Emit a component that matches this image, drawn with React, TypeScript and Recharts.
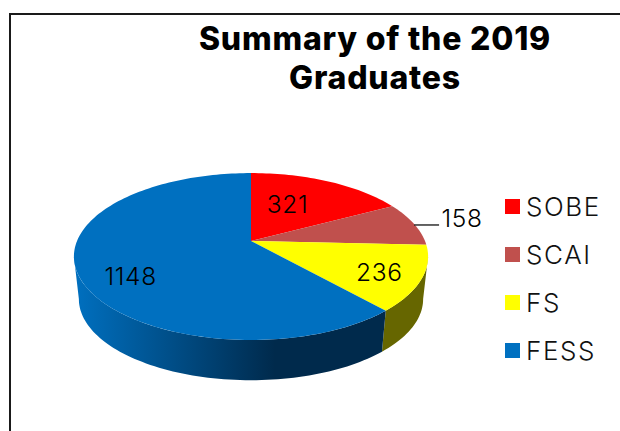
import React from "react";
import { PieChart, Pie, Legend } from "recharts";

const categories = ["SOBE", "SCAI", "FS", "FESS"];
const graduates = [321, 158, 236, 1148];
const topColors = ["#ff0000", "#c0504d", "#ffff00", "#0070c0"];
const wallColors = ["#800000", "#602826", "#666600", "url(#fessWall)"];
const titleLines = ["Summary of the 2019", "Graduates"];

const labelFractions = [0.5, 1, 0.8, 0.7];
const labelShiftX = [-5, 48, -6, -1];
const labelShiftY = [-5, -6, 2, 14];

const FONT = "Inter, 'Noto Sans', sans-serif";
const WIDTH = 620;
const HEIGHT = 431;
const CX = 251;
const CY = 241;
const RADIUS = 174;
const TILT = 0.463;
const PERSPECTIVE = 0.186;
const WALL_DROP = 43;
const WALL_SCALE = 0.972;
const RIGHT_EDGE_ANGLE = -10.7;
const LEFT_EDGE_ANGLE = -169.3;

const topRows = categories.map((name, i) => ({ name, value: graduates[i], fill: topColors[i] }));
const wallRows = categories.map((name, i) => ({ name, value: graduates[i], fill: wallColors[i] }));

function project(cx: number, cy: number, r: number, angle: number, f = 1, drop = 0, scale = 1) {
  const rad = (angle * Math.PI) / 180;
  const X = f * Math.cos(rad);
  const Y = f * Math.sin(rad);
  const w = 1 + PERSPECTIVE * Y;
  return {
    x: cx + (scale * r * X) / w,
    y: cy + drop - (scale * r * TILT * Y) / w,
  };
}

function arcPoints(p: any, from: number, to: number, drop = 0, scale = 1) {
  const pts: { x: number; y: number }[] = [];
  const steps = Math.max(2, Math.ceil(Math.abs(to - from) / 1.5));
  for (let i = 0; i <= steps; i++) {
    const a = from + ((to - from) * i) / steps;
    pts.push(project(p.cx, p.cy, p.outerRadius, a, 1, drop, scale));
  }
  return pts;
}

const toPath = (pts: { x: number; y: number }[]) =>
  pts.map((q, i) => `${i ? "L" : "M"}${q.x.toFixed(2)} ${q.y.toFixed(2)}`).join("") + "Z";

function TopSlice(p: any) {
  const d = toPath([{ x: p.cx, y: p.cy }, ...arcPoints(p, p.startAngle, p.endAngle)]);
  return <path d={d} fill={p.fill} stroke="none" />;
}

function WallSlice(p: any) {
  const from = Math.min(p.startAngle, RIGHT_EDGE_ANGLE);
  const to = Math.max(p.endAngle, LEFT_EDGE_ANGLE);
  if (from <= to) return <g />;
  const upper = arcPoints(p, from, to);
  const lower = arcPoints(p, from, to, WALL_DROP, WALL_SCALE).reverse();
  return <path d={toPath([...upper, ...lower])} fill={p.fill} stroke="none" />;
}

function SliceLabel(p: any) {
  const i = p.index;
  const m = project(p.cx, p.cy, p.outerRadius, p.midAngle, labelFractions[i]);
  const tx = m.x + labelShiftX[i];
  const ty = m.y + labelShiftY[i];
  return (
    <g>
      {i === 1 && <line x1={m.x} y1={m.y + 1} x2={m.x + 25} y2={m.y + 1} stroke="#111" strokeWidth={1.3} />}
      <text x={tx} y={ty} textAnchor="middle" dominantBaseline="central" fontFamily={FONT} fontSize={24.5} fontWeight={300} letterSpacing={0.7} fill="#000">
        {p.value}
      </text>
    </g>
  );
}

function LegendBox({ payload }: any) {
  const entries = categories.map((name, i) =>
    (payload || []).find((e: any) => e.value === name && e.color === topColors[i])
  ).filter(Boolean);
  return (
    <div>
      {entries.map((e: any) => (
        <div key={e.value} style={{ height: 48, display: "flex", alignItems: "center" }}>
          <span style={{ width: 15, height: 15, background: e.color, marginRight: 6, display: "block" }} />
          <span style={{ fontFamily: FONT, fontSize: 26, fontWeight: 300, letterSpacing: 1.6, color: "#111" }}>{e.value}</span>
        </div>
      ))}
    </div>
  );
}

export default function App() {
  return (
    <div style={{ position: "fixed", left: 0, top: 0, width: WIDTH, height: HEIGHT, overflow: "hidden", background: "#fff" }}>
      <div style={{ position: "absolute", left: 9, top: 13, right: -5, bottom: -5, borderLeft: "2px solid #1a1a1a", borderTop: "2px solid #1a1a1a" }} />
      <PieChart width={WIDTH} height={HEIGHT} margin={{ top: 0, right: 0, bottom: 0, left: 0 }} style={{ position: "absolute", left: 0, top: 0 }}>
        <defs>
          <linearGradient id="fessWall" gradientUnits="userSpaceOnUse" x1={74} y1={0} x2={275} y2={0}>
            <stop offset="0" stopColor="#0070c0" />
            <stop offset="1" stopColor="#002a4c" />
          </linearGradient>
        </defs>
        <text textAnchor="middle" fontFamily={FONT} fontSize={32} fontWeight={800} letterSpacing={0.8} fill="#000">
          {titleLines.map((line, i) => (
            <tspan key={line} x={375} y={50 + i * 39}>{line}</tspan>
          ))}
        </text>
        <Pie
          data={wallRows}
          dataKey="value"
          nameKey="name"
          cx={CX}
          cy={CY}
          outerRadius={RADIUS}
          startAngle={90}
          endAngle={-270}
          stroke="none"
          legendType="none"
          isAnimationActive={false}
          shape={WallSlice}
        />
        <Pie
          data={topRows}
          dataKey="value"
          nameKey="name"
          cx={CX}
          cy={CY}
          outerRadius={RADIUS}
          startAngle={90}
          endAngle={-270}
          stroke="none"
          legendType="square"
          isAnimationActive={false}
          shape={TopSlice}
          labelLine={false}
          label={SliceLabel}
        />
        <Legend layout="vertical" align="right" verticalAlign="top" itemSorter={null} wrapperStyle={{ left: 505, right: "auto", top: 182.5, width: 115 }} content={<LegendBox />} />
      </PieChart>
    </div>
  );
}
